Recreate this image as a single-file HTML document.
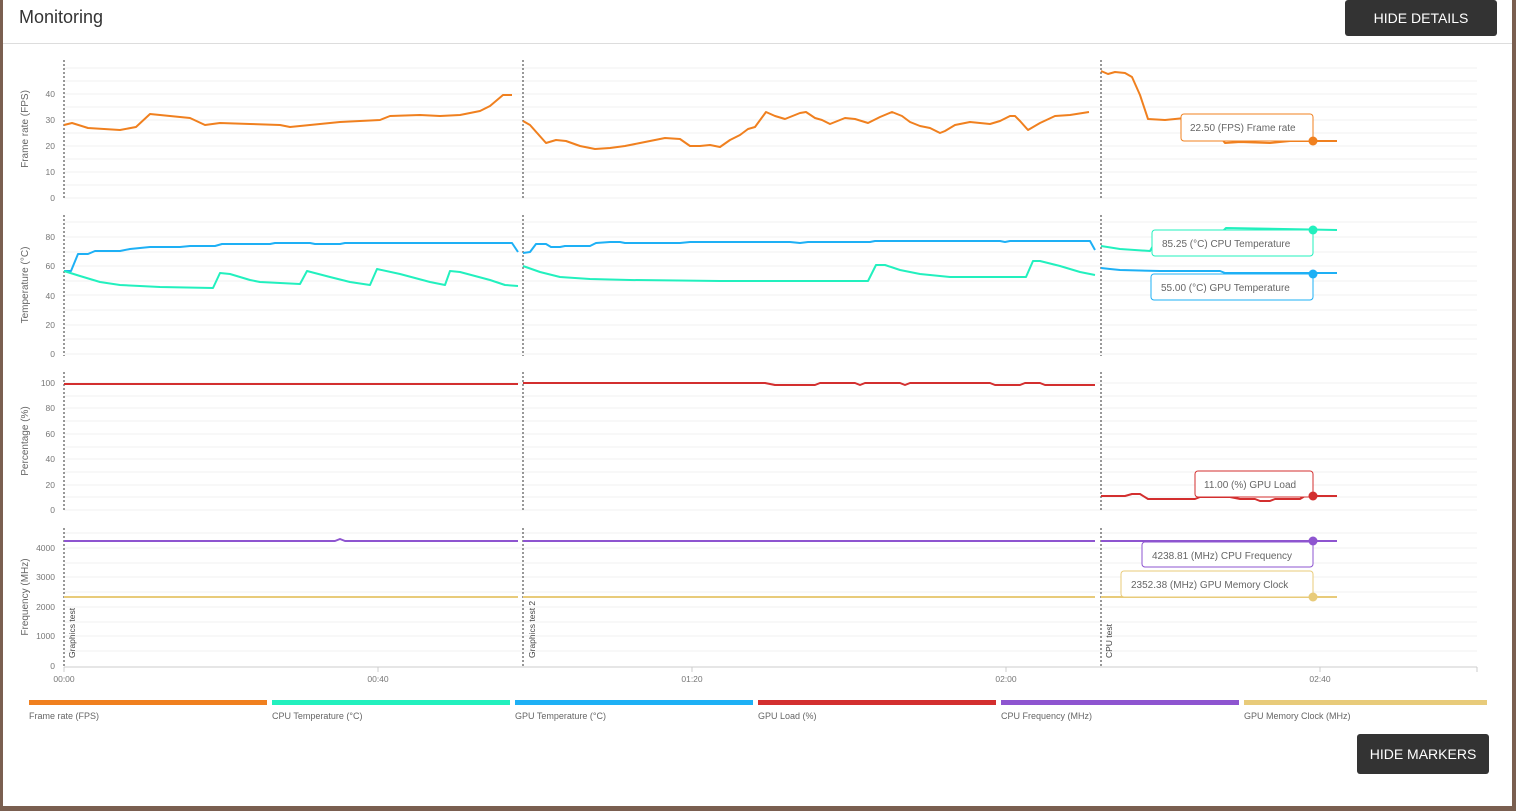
<!DOCTYPE html>
<html><head><meta charset="utf-8"><style>
html,body{margin:0;padding:0;width:1516px;height:811px;overflow:hidden;background:#7a5f50;font-family:"Liberation Sans",sans-serif}
.card{position:absolute;left:3px;top:0;width:1509px;height:806px;background:#fff}
.btn{position:absolute;background:#333;color:#fff;font-size:14px;font-weight:normal;display:flex;align-items:center;justify-content:center;border-radius:3px}
</style></head><body>
<div class="card"></div>
<div style="position:absolute;left:19px;top:7px;font-size:18px;color:#333">Monitoring</div>
<div style="position:absolute;left:3px;top:43px;width:1509px;height:1px;background:#ddd"></div>
<div class="btn" style="left:1345px;top:0;width:152px;height:36px">HIDE DETAILS</div>
<div class="btn" style="left:1357px;top:734px;width:132px;height:40px">HIDE MARKERS</div>
<svg width="1516" height="811" style="position:absolute;left:0;top:0" font-family="Liberation Sans,sans-serif">
<g stroke="#f0f0f0" stroke-width="1">
<line x1="64" x2="1477" y1="198" y2="198"/><line x1="64" x2="1477" y1="185" y2="185"/><line x1="64" x2="1477" y1="172" y2="172"/><line x1="64" x2="1477" y1="159" y2="159"/><line x1="64" x2="1477" y1="146" y2="146"/><line x1="64" x2="1477" y1="133" y2="133"/><line x1="64" x2="1477" y1="120" y2="120"/><line x1="64" x2="1477" y1="107" y2="107"/><line x1="64" x2="1477" y1="94" y2="94"/><line x1="64" x2="1477" y1="81" y2="81"/><line x1="64" x2="1477" y1="68" y2="68"/>
<line x1="64" x2="1477" y1="354" y2="354"/><line x1="64" x2="1477" y1="339" y2="339"/><line x1="64" x2="1477" y1="325" y2="325"/><line x1="64" x2="1477" y1="310" y2="310"/><line x1="64" x2="1477" y1="295" y2="295"/><line x1="64" x2="1477" y1="281" y2="281"/><line x1="64" x2="1477" y1="266" y2="266"/><line x1="64" x2="1477" y1="252" y2="252"/><line x1="64" x2="1477" y1="237" y2="237"/><line x1="64" x2="1477" y1="222" y2="222"/>
<line x1="64" x2="1477" y1="510" y2="510"/><line x1="64" x2="1477" y1="497" y2="497"/><line x1="64" x2="1477" y1="485" y2="485"/><line x1="64" x2="1477" y1="472" y2="472"/><line x1="64" x2="1477" y1="459" y2="459"/><line x1="64" x2="1477" y1="447" y2="447"/><line x1="64" x2="1477" y1="434" y2="434"/><line x1="64" x2="1477" y1="421" y2="421"/><line x1="64" x2="1477" y1="408" y2="408"/><line x1="64" x2="1477" y1="396" y2="396"/><line x1="64" x2="1477" y1="383" y2="383"/>
<line x1="64" x2="1477" y1="651" y2="651"/><line x1="64" x2="1477" y1="636" y2="636"/><line x1="64" x2="1477" y1="622" y2="622"/><line x1="64" x2="1477" y1="607" y2="607"/><line x1="64" x2="1477" y1="592" y2="592"/><line x1="64" x2="1477" y1="577" y2="577"/><line x1="64" x2="1477" y1="563" y2="563"/><line x1="64" x2="1477" y1="548" y2="548"/><line x1="64" x2="1477" y1="533" y2="533"/>
</g>
<line x1="64" x2="1477" y1="667" y2="667" stroke="#ccc"/>
<g stroke="#ccc"><line x1="64" x2="64" y1="667" y2="672"/><line x1="378" x2="378" y1="667" y2="672"/><line x1="692" x2="692" y1="667" y2="672"/><line x1="1006" x2="1006" y1="667" y2="672"/><line x1="1320" x2="1320" y1="667" y2="672"/><line x1="1477" x2="1477" y1="667" y2="672"/></g>
<g font-size="8.5" fill="#777" text-anchor="middle"><text x="64" y="682">00:00</text><text x="378" y="682">00:40</text><text x="692" y="682">01:20</text><text x="1006" y="682">02:00</text><text x="1320" y="682">02:40</text></g>
<g font-size="8.5" fill="#777" text-anchor="end">
<text x="55" y="201">0</text><text x="55" y="175">10</text><text x="55" y="149">20</text><text x="55" y="123">30</text><text x="55" y="97">40</text>
<text x="55" y="357">0</text><text x="55" y="328">20</text><text x="55" y="299">40</text><text x="55" y="269">60</text><text x="55" y="240">80</text>
<text x="55" y="513">0</text><text x="55" y="488">20</text><text x="55" y="462">40</text><text x="55" y="437">60</text><text x="55" y="411">80</text><text x="55" y="386">100</text>
<text x="55" y="669">0</text><text x="55" y="639">1000</text><text x="55" y="610">2000</text><text x="55" y="580">3000</text><text x="55" y="551">4000</text>
</g>
<g font-size="10" fill="#666" text-anchor="middle">
<text transform="translate(28,129) rotate(-90)">Frame rate (FPS)</text>
<text transform="translate(28,285) rotate(-90)">Temperature (°C)</text>
<text transform="translate(28,441) rotate(-90)">Percentage (%)</text>
<text transform="translate(28,597) rotate(-90)">Frequency (MHz)</text>
</g>
<g stroke="#333" stroke-dasharray="2,2" stroke-width="1">
<line x1="64" x2="64" y1="60" y2="200"/><line x1="64" x2="64" y1="215" y2="356"/><line x1="64" x2="64" y1="372" y2="512"/><line x1="64" x2="64" y1="528" y2="666"/>
<line x1="523" x2="523" y1="60" y2="200"/><line x1="523" x2="523" y1="215" y2="356"/><line x1="523" x2="523" y1="372" y2="512"/><line x1="523" x2="523" y1="528" y2="666"/>
<line x1="1101" x2="1101" y1="60" y2="200"/><line x1="1101" x2="1101" y1="215" y2="356"/><line x1="1101" x2="1101" y1="372" y2="512"/><line x1="1101" x2="1101" y1="528" y2="666"/>
</g>
<g font-size="8.5" fill="#444">
<text transform="translate(75,658) rotate(-90)">Graphics test</text>
<text transform="translate(535,658) rotate(-90)">Graphics test 2</text>
<text transform="translate(1112,658) rotate(-90)">CPU test</text>
</g>
<g fill="none" stroke-width="2" stroke-linejoin="round">
<g stroke="#f0801f">
<polyline points="64,125 72,123 88,128 104,129 120,130 136,127 150,114 160,115 190,118 205,125 220,123 250,124 280,125 290,127 300,126 340,122 380,120 390,116 420,115 440,116 460,115 480,111 490,106 503,95 512,95"/>
<polyline points="523,121 530,125 546,143 556,140 566,141 580,146 595,149 610,148 625,146 640,143 655,140 665,138 680,139 690,146 700,146 710,145 720,147 730,140 740,135 748,129 755,127 766,112 775,116 785,119 800,113 806,112 815,118 822,120 830,124 845,118 855,119 868,123 880,117 892,112 902,116 910,122 920,126 930,128 940,133 945,131 955,125 970,122 990,124 1000,121 1010,116 1015,116 1020,121 1028,130 1040,123 1055,116 1070,115 1089,112"/>
<polyline points="1101,71 1108,74 1115,72 1125,73 1132,77 1140,95 1148,119 1165,120 1185,118 1215,130 1225,143 1240,142 1270,143 1290,141 1320,141 1337,141"/>
</g>
<g stroke="#1eb0f5">
<polyline points="64,271 71,271 78,254 88,254 95,251 120,251 130,249 140,248 150,247 180,247 190,246 215,246 222,244 270,244 275,243 310,243 315,244 340,244 345,243 512,243 518,252"/>
<polyline points="523,253 530,252 536,244 546,244 551,247 560,247 565,246 590,246 596,243 610,242 620,242 625,243 680,243 690,242 790,242 800,243 808,242 870,242 875,241 1000,241 1005,242 1010,241 1090,241 1095,250"/>
<polyline points="1101,268 1110,269 1120,270 1160,271 1220,271 1225,273 1337,273"/>
</g>
<g stroke="#22f0be">
<polyline points="64,271 80,276 100,282 120,285 140,286 160,287 213,288 220,273 230,274 250,280 260,282 300,284 307,271 330,277 350,282 370,285 377,269 400,274 430,282 445,285 450,271 460,272 490,280 505,285 518,286"/>
<polyline points="523,266 540,272 560,277 590,279 630,280 720,281 868,281 876,265 885,265 900,270 920,274 950,277 1026,277 1033,261 1040,261 1060,266 1080,272 1095,275"/>
<polyline points="1101,246 1120,249 1150,251 1158,237 1165,234 1220,234 1226,228 1337,230"/>
</g>
<g stroke="#d32f2f">
<polyline points="64,384 518,384"/>
<polyline points="523,383 765,383 775,385 815,385 820,383 855,383 860,385 865,383 900,383 905,385 910,383 990,383 995,385 1020,385 1025,383 1040,383 1045,385 1095,385"/>
<polyline points="1101,496 1125,496 1132,494 1140,494 1148,499 1195,499 1200,497 1230,497 1240,499 1255,499 1260,501 1270,501 1275,499 1300,499 1305,496 1337,496"/>
</g>
<g stroke="#8e55d0">
<polyline points="64,541 335,541 340,539 345,541 518,541"/><polyline points="523,541 1095,541"/><polyline points="1101,541 1337,541"/>
</g>
<g stroke="#e8cb7a">
<polyline points="64,597 518,597"/><polyline points="523,597 1095,597"/><polyline points="1101,597 1337,597"/>
</g>
</g>
<g font-size="10" fill="#666">
<rect x="1181" y="114" width="132" height="27" rx="3" fill="#fff" stroke="#f0801f"/><text x="1190" y="131">22.50 (FPS) Frame rate</text>
<rect x="1152" y="230" width="161" height="26" rx="3" fill="#fff" stroke="#22f0be"/><text x="1162" y="247">85.25 (°C) CPU Temperature</text>
<rect x="1151" y="274" width="162" height="26" rx="3" fill="#fff" stroke="#1eb0f5"/><text x="1161" y="291">55.00 (°C) GPU Temperature</text>
<rect x="1195" y="471" width="118" height="26" rx="3" fill="#fff" stroke="#d32f2f"/><text x="1204" y="488">11.00 (%) GPU Load</text>
<rect x="1142" y="542" width="171" height="25" rx="3" fill="#fff" stroke="#8e55d0"/><text x="1152" y="559">4238.81 (MHz) CPU Frequency</text>
<rect x="1121" y="571" width="192" height="26" rx="3" fill="#fff" stroke="#e8cb7a"/><text x="1131" y="588">2352.38 (MHz) GPU Memory Clock</text>
</g>
<circle cx="1313" cy="141" r="4.5" fill="#f0801f"/><circle cx="1313" cy="230" r="4.5" fill="#22f0be"/><circle cx="1313" cy="274" r="4.5" fill="#1eb0f5"/><circle cx="1313" cy="496" r="4.5" fill="#d32f2f"/><circle cx="1313" cy="541" r="4.5" fill="#8e55d0"/><circle cx="1313" cy="597" r="4.5" fill="#e8cb7a"/>
<rect x="29" y="700" width="238" height="5" fill="#f0801f"/><rect x="272" y="700" width="238" height="5" fill="#22f0be"/><rect x="515" y="700" width="238" height="5" fill="#1eb0f5"/><rect x="758" y="700" width="238" height="5" fill="#d32f2f"/><rect x="1001" y="700" width="238" height="5" fill="#8e55d0"/><rect x="1244" y="700" width="243" height="5" fill="#e8cb7a"/>
<g font-size="9" fill="#666"><text x="29" y="719">Frame rate (FPS)</text><text x="272" y="719">CPU Temperature (°C)</text><text x="515" y="719">GPU Temperature (°C)</text><text x="758" y="719">GPU Load (%)</text><text x="1001" y="719">CPU Frequency (MHz)</text><text x="1244" y="719">GPU Memory Clock (MHz)</text></g>
</svg>
</body></html>
